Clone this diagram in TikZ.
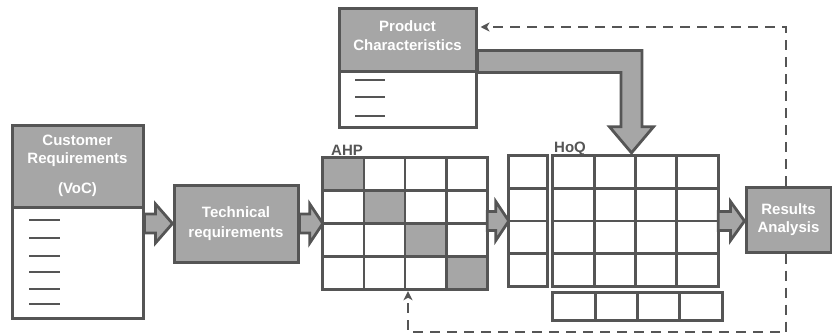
\documentclass[tikz,border=0pt]{standalone}
\usepackage{fontspec}
\setmainfont{Liberation Sans}
\usetikzlibrary{calc,arrows.meta}
\definecolor{boxgray}{HTML}{A6A6A6}
\definecolor{edgegray}{HTML}{555555}
\newcommand\blockarr[3]{%
  \draw[blockarrow] let \p1=(#1), \p2=(#2) in
    (\x1,\y1+9.5pt) -- (\x2-#3pt,\y1+9.5pt) -- (\x2-#3pt,\y1+19.5pt) -- (\x2,\y1)
    -- (\x2-#3pt,\y1-19.5pt) -- (\x2-#3pt,\y1-9.5pt) -- (\x1,\y1-9.5pt) -- cycle;}
\begin{document}
\begin{tikzpicture}[x=1pt,y=-1pt,
  txt/.style={font=\bfseries\fontsize{15}{18}\selectfont},
  hdr/.style={txt,draw=edgegray,line width=3pt,fill=boxgray,text=white,inner sep=0pt,align=center},
  bodybox/.style={draw=edgegray,line width=3pt,fill=white,inner sep=0pt},
  gridbox/.style={inner sep=0pt,draw=none},
  gline/.style={draw=edgegray,line width=2.8pt},
  blockarrow/.style={draw=edgegray,line width=2.8pt,fill=boxgray,line join=miter},
  fb/.style={draw=edgegray,line width=2.6pt,dash pattern=on 10pt off 7pt,
             -{Stealth[length=9pt,width=9pt,inset=2.5pt]}},
  item/.style={draw=edgegray,line width=2.6pt},
  lbl/.style={txt,text=edgegray,inner sep=0pt},
]
\useasboundingbox (0,0) rectangle (832,335);

% Customer requirements
\node[bodybox,minimum width=131pt,minimum height=111pt] (custbody) at (77.5,262.5) {};
\node[hdr,minimum width=131pt,minimum height=82pt] (custhead) at (77.5,166)
  {Customer\\Requirements\\[12pt](VoC)};
\foreach \yy in {220,238,256,272,289,304} \draw[item] (29,\yy) -- (60,\yy);

% Technical requirements
\node[hdr,minimum width=124pt,minimum height=77pt] (tech) at (236,223.5)
  {Technical\\[2pt]requirements};

% Product characteristics
\node[bodybox,minimum width=137pt,minimum height=56pt] (prodbody) at (407.5,99) {};
\node[hdr,minimum width=137pt,minimum height=63pt] (prodhead) at (407.5,39.5) {};
\node[txt,text=white,align=center,inner sep=0pt] (prodtxt) at (407.5,35.5)
  {Product\\[1pt]Characteristics};
\foreach \yy in {80,97,116} \draw[item] (355,\yy) -- (385,\yy);

% AHP matrix
\path node[gridbox,minimum width=164pt,minimum height=131pt] (ahp) at (405,223.5) {};
\foreach \i in {0,...,3}
  \fill[boxgray] ($(ahp.north west)+(\i*41,\i*32.75)$) rectangle ++(41,32.75);
\draw[gline] (ahp.north west) rectangle (ahp.south east);
\foreach \i in {1,2,3} {
  \draw[gline] ($(ahp.north west)!\i/4!(ahp.north east)$) -- ($(ahp.south west)!\i/4!(ahp.south east)$);
  \draw[gline] ($(ahp.north west)!\i/4!(ahp.south west)$) -- ($(ahp.north east)!\i/4!(ahp.south east)$);
}
\node[lbl,anchor=base west] (ahplbl) at (331,155) {AHP};

% weight column
\path node[gridbox,minimum width=38pt,minimum height=130pt] (col) at (528,221) {};
\draw[gline] (col.north west) rectangle (col.south east);
\foreach \i in {1,2,3}
  \draw[gline] ($(col.north west)!\i/4!(col.south west)$) -- ($(col.north east)!\i/4!(col.south east)$);

% HoQ matrix
\path node[gridbox,minimum width=165pt,minimum height=130pt] (hoq) at (635.5,221) {};
\draw[gline] (hoq.north west) rectangle (hoq.south east);
\foreach \i in {1,2,3} {
  \draw[gline] ($(hoq.north west)!\i/4!(hoq.north east)$) -- ($(hoq.south west)!\i/4!(hoq.south east)$);
  \draw[gline] ($(hoq.north west)!\i/4!(hoq.south west)$) -- ($(hoq.north east)!\i/4!(hoq.south east)$);
}
\node[lbl,anchor=base west] (hoqlbl) at (554,152) {HoQ};

% HoQ bottom row
\path node[gridbox,minimum width=169pt,minimum height=27pt] (hoqb) at (637.5,306.5) {};
\draw[gline] (hoqb.north west) rectangle (hoqb.south east);
\foreach \i in {1,2,3}
  \draw[gline] ($(hoqb.north west)!\i/4!(hoqb.north east)$) -- ($(hoqb.south west)!\i/4!(hoqb.south east)$);

% Results
\node[hdr,minimum width=85pt,minimum height=65pt] (res) at (788.5,219.5)
  {\fontsize{15}{17.5}\selectfont Results\\Analysis};

% block arrows
\blockarr{custbody.east |- tech.west}{tech.west}{17}
\blockarr{tech.east}{ahp.west |- tech.east}{13}
\blockarr{ahp.east |- col.west}{col.west}{13}
\blockarr{hoq.east}{res.west |- hoq.east}{14}

\draw[blockarrow] let \p1=(prodhead.south east), \p2=($(hoq.north)+(-4,-3)$) in
  (\x1,\y1) -- (\x1,\y1+22pt) -- (\x2+10.5pt,\y1+22pt) -- (\x2+10.5pt,\y2+26pt)
  -- (\x2+22pt,\y2+26pt) -- (\x2,\y2) -- (\x2-22pt,\y2+26pt) -- (\x2-10.5pt,\y2+26pt)
  -- (\x2-10.5pt,\y1) -- cycle;

% feedback dashed lines
\coordinate (topy) at (0,27);
\coordinate (boty) at (0,332);
\coordinate (fbx) at (786,0);
\coordinate (fbx2) at (408,0);
\draw[fb,shorten >=3pt] (fbx |- res.north) -- (fbx |- topy) -- (prodhead.east |- topy);
\draw[fb,shorten >=2pt] (fbx |- res.south) -- (fbx |- boty) -- (fbx2 |- boty) -- (fbx2 |- ahp.south);
\end{tikzpicture}
\end{document}
